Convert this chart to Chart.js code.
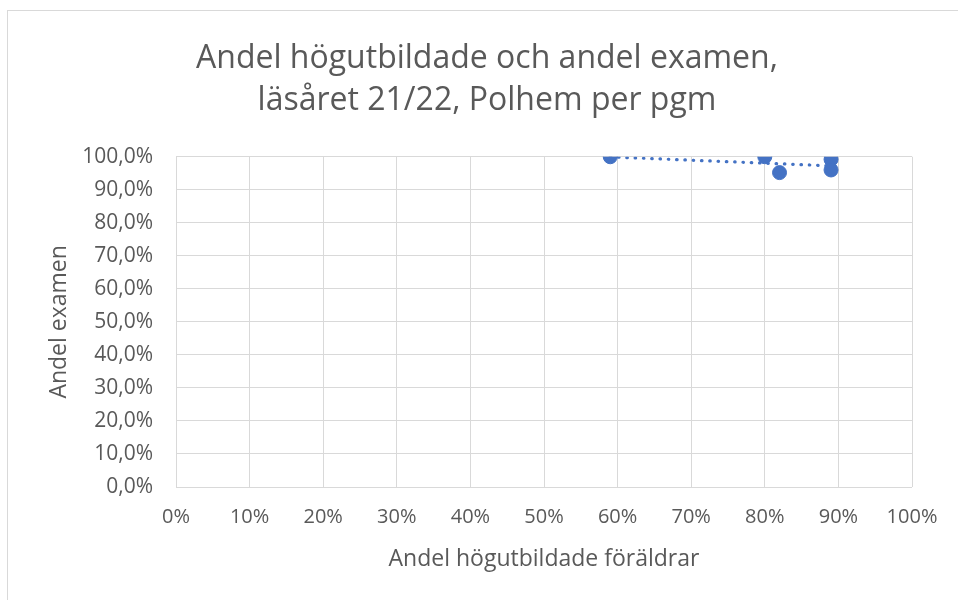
<!DOCTYPE html>
<html>
<head>
<meta charset="utf-8">
<script src="https://cdn.jsdelivr.net/npm/chart.js@4"></script>
<style>
  html, body { margin: 0; padding: 0; background: #fff; }
  #wrap { width: 958px; height: 600px; }
</style>
</head>
<body>
<div id="wrap"><canvas id="scatterChart" width="958" height="600"></canvas></div>
<script>
// Andel högutbildade föräldrar (x) och andel examen (y), per program
const hogutbildade = [0.59, 0.80, 0.82, 0.89, 0.89];
const examen = [1.000, 1.000, 0.952, 0.992, 0.960];
const xTicks = [0, 0.1, 0.2, 0.3, 0.4, 0.5, 0.6, 0.7, 0.8, 0.9, 1.0];
const yTicks = [0, 0.1, 0.2, 0.3, 0.4, 0.5, 0.6, 0.7, 0.8, 0.9, 1.0];

const titleLines = ['Andel högutbildade och andel examen,', 'läsåret 21/22, Polhem per pgm'];
const FONT = "'Open Sans', sans-serif";
const TEXT = '#595959';
const BLUE = '#4472C4';
const GRID = '#d9d9d9';

// linjär trendlinje (minsta kvadrat) som i Excel
function trend(xs, ys) {
  const n = xs.length;
  const mx = xs.reduce((a, b) => a + b, 0) / n;
  const my = ys.reduce((a, b) => a + b, 0) / n;
  let sxy = 0, sxx = 0;
  xs.forEach((x, i) => { sxy += (x - mx) * (ys[i] - my); sxx += (x - mx) * (x - mx); });
  const k = sxy / sxx;
  const x0 = Math.min(...xs), x1 = Math.max(...xs);
  return [{ x: x0, y: my + k * (x0 - mx) }, { x: x1, y: my + k * (x1 - mx) }];
}

const frame = {
  id: 'frame',
  beforeDraw(chart) {
    const c = chart.ctx;
    c.save();
    c.strokeStyle = GRID;
    c.lineWidth = 1;
    c.strokeRect(7.5, 10.5, 1000, 1000);
    c.restore();
  }
};

new Chart(document.getElementById('scatterChart').getContext('2d'), {
  type: 'scatter',
  data: {
    datasets: [
      {
        label: 'Andel examen',
        data: hogutbildade.map((x, i) => ({ x, y: examen[i] })),
        backgroundColor: BLUE,
        borderColor: BLUE,
        pointRadius: 7,
        pointHoverRadius: 7,
        order: 1
      },
      {
        label: 'Linjär',
        type: 'line',
        data: trend(hogutbildade, examen),
        borderColor: BLUE,
        borderWidth: 3.2,
        borderDash: [0.5, 7.8],
        borderCapStyle: 'round',
        pointRadius: 0,
        fill: false,
        order: 2
      }
    ]
  },
  options: {
    responsive: false,
    animation: false,
    layout: { padding: { left: 62, right: 46, top: 0, bottom: 0 } },
    plugins: {
      legend: { display: false },
      tooltip: { enabled: false },
      title: {
        display: true,
        text: titleLines,
        color: TEXT,
        font: { family: FONT, size: 32, weight: 'normal', lineHeight: 1.34 },
        padding: { top: 37, bottom: 34 }
      }
    },
    scales: {
      x: {
        type: 'linear',
        min: 0,
        max: 1,
        afterBuildTicks: s => { s.ticks = xTicks.map(v => ({ value: v })); },
        afterFit: s => { s.height = 113; },
        grid: { color: GRID, drawTicks: false },
        border: { display: false },
        ticks: {
          color: TEXT,
          padding: 18,
          font: { family: FONT, size: 20 },
          callback: v => Math.round(v * 100) + '%'
        },
        title: {
          display: true,
          text: 'Andel högutbildade föräldrar',
          color: TEXT,
          font: { family: FONT, size: 23 },
          padding: { top: 0, bottom: 27 }
        }
      },
      y: {
        type: 'linear',
        min: 0,
        max: 1,
        afterBuildTicks: s => { s.ticks = yTicks.map(v => ({ value: v })); },
        afterFit: s => { s.width = 114; },
        grid: { color: GRID, drawTicks: false },
        border: { display: false },
        ticks: {
          color: TEXT,
          padding: 23,
          font: { family: FONT, size: 21 },
          callback: v => (v * 100).toFixed(1).replace('.', ',') + '%'
        },
        title: {
          display: true,
          text: 'Andel examen',
          color: TEXT,
          font: { family: FONT, size: 23 },
          padding: { top: -16, bottom: 0 }
        }
      }
    }
  },
  plugins: [frame]
});
</script>
</body>
</html>
